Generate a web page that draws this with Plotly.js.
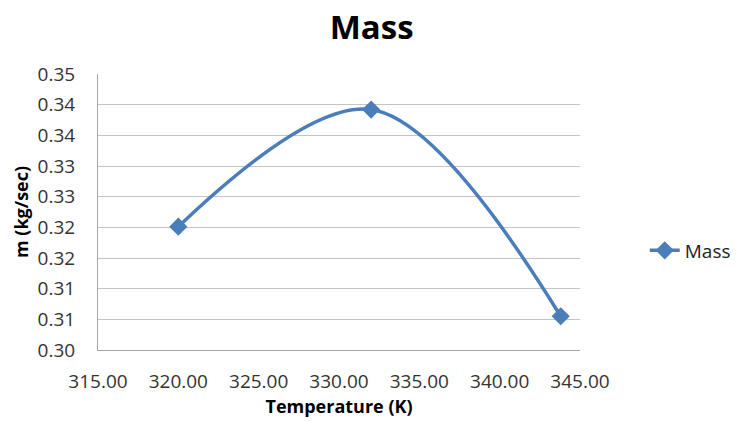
<!DOCTYPE html>
<html>
<head>
<meta charset="utf-8">
<script src="https://cdn.plot.ly/plotly-3.0.1.min.js"></script>
<style>html,body{margin:0;padding:0;background:#fff;}#chart{width:736px;height:421px;}</style>
</head>
<body>
<div id="chart"></div>
<script>
// Data
const temperatureK = [320.0, 332.0, 343.8];
const massKgPerSec = [0.3201, 0.3392, 0.3055];
const seriesName = "Mass";
const yTickVals = [0.300, 0.305, 0.310, 0.315, 0.320, 0.325, 0.330, 0.335, 0.340, 0.345];
const yTickText = ["0.30", "0.31", "0.31", "0.32", "0.32", "0.33", "0.33", "0.34", "0.34", "0.35"];

const trace = {
  x: temperatureK,
  y: massKgPerSec,
  name: seriesName,
  type: "scatter",
  mode: "lines+markers",
  line: {color: "#4A7EBB", width: 3.5, shape: "spline", smoothing: 1},
  marker: {symbol: "diamond", size: 14, color: "#4A7EBB"},
  showlegend: true
};

const layout = {
  width: 736, height: 421,
  paper_bgcolor: "#fff", plot_bgcolor: "#fff",
  margin: {l: 98, r: 156, t: 74, b: 71, autoexpand: false},
  font: {family: "Open Sans, sans-serif", color: "#333"},
  title: {text: "<b>Mass</b>", x: 0.505, xanchor: "center", y: 0.935, yanchor: "middle",
          font: {size: 33, color: "#000", family: "Open Sans, sans-serif"}},
  xaxis: {
    range: [315, 345], dtick: 5, tick0: 315, tickformat: ".2f", automargin: false,
    showgrid: false, zeroline: false, showline: true, linecolor: "#a6a6a6", linewidth: 1,
    ticks: "", ticklabelstandoff: 14, tickfont: {size: 19, color: "#333"},
    title: {text: "<b>Temperature (K)</b>", font: {size: 18, color: "#000"}, standoff: 4}
  },
  yaxis: {
    range: [0.300, 0.345], tickmode: "array", tickvals: yTickVals, ticktext: yTickText, automargin: false,
    showgrid: true, gridcolor: "#c4c4c4", gridwidth: 1, zeroline: false,
    showline: true, linecolor: "#a6a6a6", linewidth: 1,
    ticks: "", ticklabelstandoff: 18, tickfont: {size: 19, color: "#333"},
    title: {text: "<b>m (kg/sec)</b>", font: {size: 18, color: "#000"}, standoff: 4}
  },
  legend: {xref: "container", x: 0.876, xanchor: "left", yref: "container", y: 0.405, yanchor: "middle",
           font: {size: 19, color: "#222"}, bgcolor: "rgba(0,0,0,0)"}
};

Plotly.newPlot("chart", [trace], layout, {displayModeBar: false, staticPlot: true});
</script>
</body>
</html>
